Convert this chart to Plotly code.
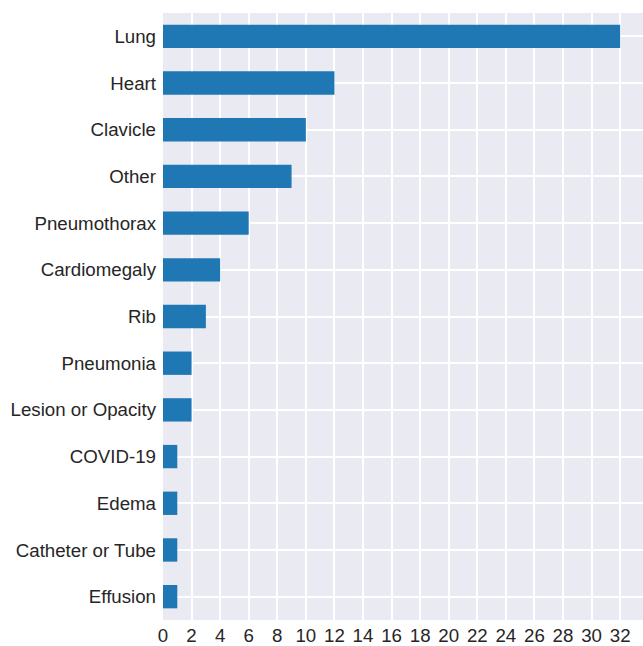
import plotly.graph_objects as go

categories = ["Lung", "Heart", "Clavicle", "Other", "Pneumothorax", "Cardiomegaly", "Rib",
              "Pneumonia", "Lesion or Opacity", "COVID-19", "Edema", "Catheter or Tube", "Effusion"]
counts = [32, 12, 10, 9, 6, 4, 3, 2, 2, 1, 1, 1, 1]
x_ticks = list(range(0, 33, 2))

fig = go.Figure(go.Bar(
    x=counts, y=categories, orientation="h",
    marker=dict(color="#1f77b4", line=dict(width=0)),
    width=0.5,
))

fig.update_layout(
    width=643, height=646,
    margin=dict(l=163, r=0, t=13, b=23),
    plot_bgcolor="#EAEAF2", paper_bgcolor="white",
    font=dict(family="Liberation Sans, Arial, sans-serif", size=18.7, color="#262626"),
    showlegend=False,
    bargap=0.5,
)
fig.update_xaxes(range=[0, 33.6], tickvals=x_ticks, showgrid=True, gridcolor="white",
                 gridwidth=1.6, zeroline=False, showline=False, ticks="", ticklabelstandoff=2)
fig.update_yaxes(categoryorder="array", categoryarray=categories[::-1], range=[-0.5, 12.5],
                 showgrid=True, gridcolor="white", gridwidth=1.6, zeroline=False,
                 ticks="", ticklabelstandoff=6)

fig.write_html("out.html", config={"displayModeBar": False},
               post_script="document.body.style.margin='0px';")
